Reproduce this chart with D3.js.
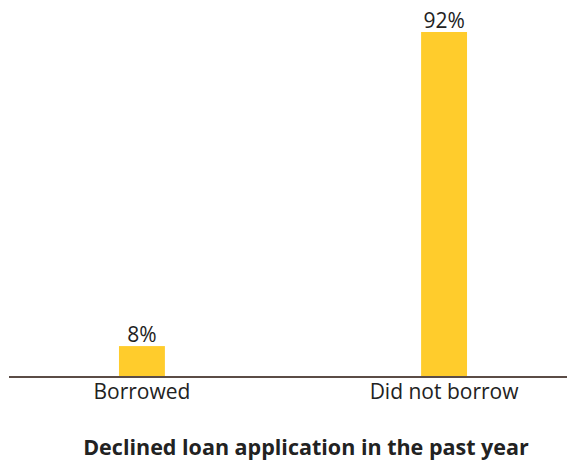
<!DOCTYPE html>
<html>
<head>
<meta charset="utf-8">
<script src="https://cdn.jsdelivr.net/npm/d3@7"></script>
<style>
  body { margin: 0; background: #fff; }
  text { font-family: "Open Sans", sans-serif; fill: #222; }
</style>
</head>
<body>
<div id="viz"></div>
<script>
let categories = ['Borrowed', 'Did not borrow'];
let values = [8, 92];
let title = 'Declined loan application in the past year';

let width = 567, height = 462;
let margin = { top: 32, bottom: 86 };

let svg = d3.select('#viz')
  .append('svg')
  .attr('width', width)
  .attr('height', height);

let x = d3.scaleBand()
  .domain(categories)
  .range([9, 577])
  .paddingInner(0.848)
  .paddingOuter(0.364);

let y = d3.scaleLinear()
  .domain([0, 92])
  .range([height - margin.bottom, margin.top]);

svg.selectAll('rect.bar')
  .data(values)
  .enter()
  .append('rect')
  .attr('class', 'bar')
  .attr('x', (d, i) => x(categories[i]))
  .attr('y', d => y(d))
  .attr('width', x.bandwidth())
  .attr('height', d => y(0) - y(d))
  .attr('fill', '#ffcc2c');

svg.selectAll('text.val')
  .data(values)
  .enter()
  .append('text')
  .attr('class', 'val')
  .attr('x', (d, i) => x(categories[i]) + x.bandwidth() / 2)
  .attr('y', d => y(d) - 4)
  .attr('text-anchor', 'middle')
  .style('font-size', '21px')
  .text(d => d + '%');

// baseline
svg.append('line')
  .attr('x1', 9)
  .attr('x2', width)
  .attr('y1', y(0) + 1)
  .attr('y2', y(0) + 1)
  .attr('stroke', '#5b4c46')
  .attr('stroke-width', 2);

svg.selectAll('text.cat')
  .data(categories)
  .enter()
  .append('text')
  .attr('class', 'cat')
  .attr('x', d => x(d) + x.bandwidth() / 2)
  .attr('y', y(0) + 23)
  .attr('text-anchor', 'middle')
  .style('font-size', '21px')
  .text(d => d);

svg.append('text')
  .attr('x', 306)
  .attr('y', 455)
  .attr('text-anchor', 'middle')
  .style('font-size', '21.5px')
  .style('font-weight', 'bold')
  .text(title);
</script>
</body>
</html>
